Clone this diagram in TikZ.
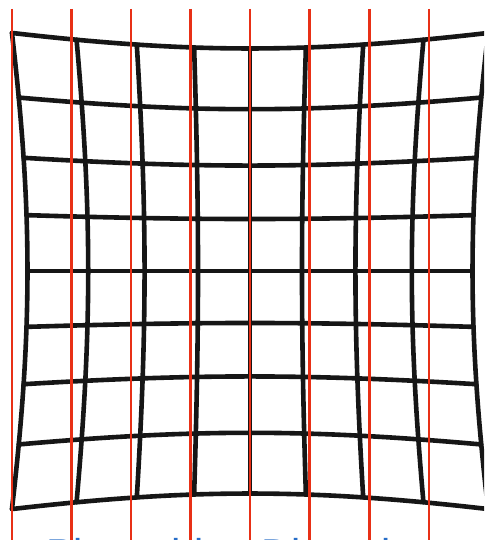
\documentclass[tikz,border=0pt]{standalone}
\usepackage{fontspec}
\setmainfont{Liberation Sans}
\definecolor{gridred}{RGB}{232,48,22}
\definecolor{gridblack}{RGB}{22,22,22}
\definecolor{capblue}{RGB}{40,110,200}
\begin{document}
\begin{tikzpicture}[x=1pt,y=-1pt,
  gridline/.style={draw=gridblack,line width=4.6pt,line cap=round,line join=round},
  redline/.style={draw=gridred,line width=2.6pt},
  captext/.style={text=capblue,font=\fontsize{41.6}{44}\selectfont,inner sep=0pt,anchor=base west}]
\fill[white] (0,0) rectangle (484,540);
\useasboundingbox (0,0) rectangle (484,540);
\begin{scope}
\clip (0,0) rectangle (484,540);
% horizontal grid lines (pincushion distorted)
\foreach \v in {-1,-0.75,-0.5,-0.25,0,0.25,0.5,0.75,1} {
  \draw[gridline] plot[variable=\t,domain=-1:1,samples=41,smooth]
    ({250+207*\t*(1+0.075*(\t*\t+\v*\v))},{271+207*\v*(1+0.075*(\t*\t+\v*\v))});
}
% vertical grid lines
\foreach \u in {-1,-0.75,-0.5,-0.25,0,0.25,0.5,0.75,1} {
  \draw[gridline] plot[variable=\t,domain=-1:1,samples=41,smooth]
    ({250+207*\u*(1+0.075*(\u*\u+\t*\t))},{271+207*\t*(1+0.075*(\u*\u+\t*\t))});
}
% red reference lines
\foreach \i/\xx in {1/12,2/71.5,3/131,4/190.5,5/250,6/309.5,7/369.5,8/429} {
  \coordinate (rt\i) at (\xx,9);
  \coordinate (rb\i) at (\xx,540);
  \draw[redline] (rt\i) -- (rb\i);
}
% caption (cut off at the bottom, as in the reference)
\node[captext] (cap) at (46,568.5) {Pincushion Distortion};
\end{scope}
\end{tikzpicture}
\end{document}
